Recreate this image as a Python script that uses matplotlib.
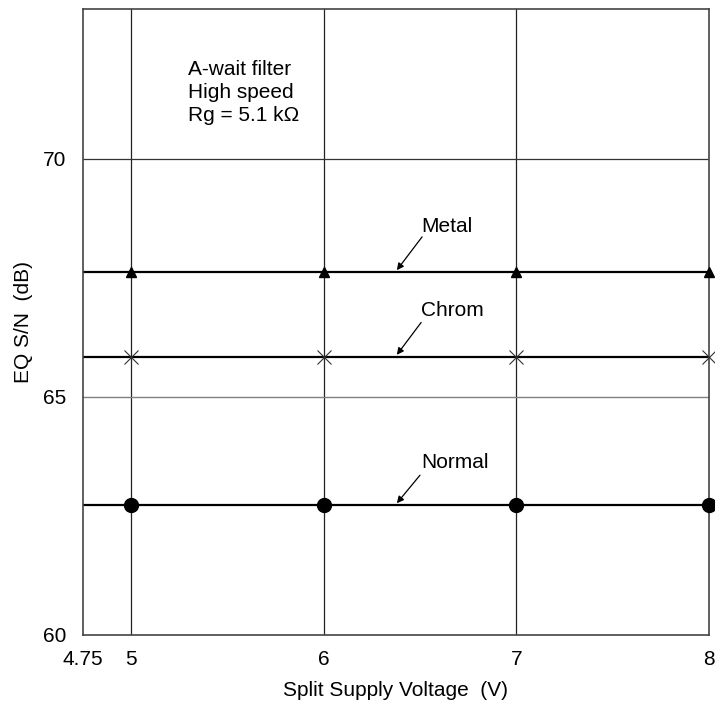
import numpy as np
import matplotlib
matplotlib.use("Agg")
import matplotlib.pyplot as plt

plt.rcParams['font.family'] = ['Liberation Sans', 'DejaVu Sans']

# data
voltage = [5, 6, 7, 8]
metal = [67.62, 67.62, 67.62, 67.62]
chrom = [65.84, 65.84, 65.84, 65.84]
normal = [62.72, 62.72, 62.72, 62.72]

x_ticks = [4.75, 5, 6, 7, 8]
x_tick_labels = ["4.75", "5", "6", "7", "8"]
y_ticks = [60, 65, 70]
note_lines = ["A-wait filter", "High speed", "Rg = 5.1 k\u03a9"]

fig = plt.figure(figsize=(7.15, 7.07), dpi=100)
ax = fig.add_axes([0.1157, 0.1025, 0.876, 0.8848])

ax.set_xlim(4.75, 8)
ax.set_ylim(60, 73.15)

# grid
for v in [5, 6, 7]:
    ax.axvline(v, color='#222222', lw=0.9, zorder=1)
ax.axhline(65, color='#808080', lw=1.0, zorder=1)
ax.axhline(70, color='#333333', lw=0.9, zorder=1)

# curves (lines start at the left axis)
for vals in (metal, chrom, normal):
    ax.plot([4.75] + voltage, [vals[0]] + vals, color='black', lw=1.6, zorder=2)

ax.plot(voltage, metal, ls='none', marker='^', ms=7.5, color='black', zorder=3, clip_on=False)
ax.plot(voltage, chrom, ls='none', marker='x', ms=10, mew=0.8, color='#333333', zorder=3, clip_on=False)
ax.plot(voltage, normal, ls='none', marker='o', ms=10, color='black', zorder=3, clip_on=False)

# curve labels with arrows
arrow = dict(arrowstyle='-|>', color='black', lw=0.9, mutation_scale=10, shrinkA=0, shrinkB=0)
labels = [("Metal", metal[0], 6.505, 68.46, 6.511, 68.36),
          ("Chrom", chrom[0], 6.505, 66.70, 6.506, 66.56),
          ("Normal", normal[0], 6.505, 63.50, 6.50, 63.35)]
for name, yv, tx, ty, ax0, ay0 in labels:
    ax.text(tx, ty, name, fontsize=15, ha='left', va='baseline')
    ax.annotate("", xy=(6.38, yv + 0.04), xytext=(ax0, ay0), arrowprops=arrow)

for line, yb in zip(note_lines, [71.77, 71.27, 70.80]):
    ax.text(5.296, yb, line, fontsize=15, ha='left', va='baseline')

ax.set_xticks(x_ticks)
ax.set_xticklabels(x_tick_labels)
ax.set_yticks(y_ticks)
ax.tick_params(axis='x', length=0, pad=11, labelsize=15)
ax.tick_params(axis='y', length=0, pad=12, labelsize=15)

ax.set_xlabel("Split Supply Voltage  (V)", fontsize=15, labelpad=9)
ax.set_ylabel("EQ S/N  (dB)", fontsize=15, labelpad=7)

for s in ax.spines.values():
    s.set_color('#444444')
    s.set_linewidth(1.2)

fig.savefig("out.png", dpi=100)
